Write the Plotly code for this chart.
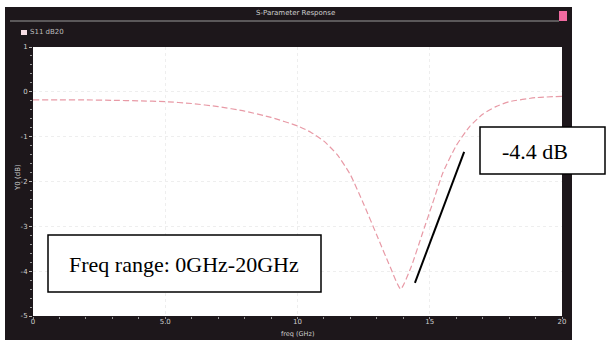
import plotly.graph_objects as go

# ---- data ----
freq_ghz = [0, 1, 2, 3, 4, 5, 6, 7, 8, 9, 10, 10.5, 11, 11.5, 12, 12.5, 13, 13.5, 13.9,
            14.3, 14.7, 15.1, 15.5, 16, 16.5, 17, 17.5, 18, 19, 20]
s11_db = [-0.18, -0.18, -0.18, -0.19, -0.2, -0.22, -0.26, -0.33, -0.43, -0.57, -0.76, -0.9,
          -1.1, -1.4, -1.85, -2.5, -3.2, -3.9, -4.4, -3.9, -3.2, -2.5, -1.8, -1.2, -0.78,
          -0.5, -0.33, -0.22, -0.13, -0.1]
x_tick_vals = [0, 5, 10, 15, 20]
x_tick_text = ["0", "5.0", "10", "15", "20"]
y_tick_vals = [1, 0, -1, -2, -3, -4, -5]
y_tick_text = ["1", "0", "-1", "-2", "-3", "-4", "-5"]
pointer_x = [14.44, 16.3]
pointer_y = [-4.26, -1.34]

# ---- geometry helpers (pixel -> paper) ----
W, H = 608, 343
L, R, T, B = 33, 562, 47, 316
def px(x):
    return (x - L) / (R - L)
def py(y):
    return (B - y) / (B - T)

FRAME = "#1d171b"
LIGHT = "#cfcfcf"

fig = go.Figure()
fig.add_trace(go.Scatter(
    x=freq_ghz, y=s11_db, mode="lines", name="S11 dB20",
    line=dict(color="#e89aa6", width=1.2, dash="6px,3px", shape="spline", smoothing=0.5),
    showlegend=False, hoverinfo="skip"))

shapes = [
    dict(type="rect", xref="paper", yref="paper", layer="below",
         x0=px(5), x1=px(572), y0=py(340), y1=py(7),
         fillcolor=FRAME, line=dict(width=0)),
    dict(type="rect", xref="paper", yref="paper", layer="below",
         x0=0, x1=1, y0=0, y1=1, fillcolor="white", line=dict(width=0)),
    dict(type="line", xref="paper", yref="paper",
         x0=px(10), x1=px(559), y0=py(21), y1=py(21),
         line=dict(color="#9a9a9a", width=1)),
    dict(type="rect", xref="paper", yref="paper",
         x0=px(559), x1=px(567), y0=py(21), y1=py(11),
         fillcolor="#f06aa0", line=dict(width=0)),
    dict(type="rect", xref="paper", yref="paper",
         x0=px(21), x1=px(27), y0=py(35), y1=py(30),
         fillcolor="#f6dde4", line=dict(width=0)),
    dict(type="rect", xref="paper", yref="paper", layer="above",
         x0=px(48), x1=px(321), y0=py(292), y1=py(235),
         fillcolor="white", line=dict(color="black", width=1.5)),
    dict(type="rect", xref="paper", yref="paper", layer="above",
         x0=px(480), x1=px(605), y0=py(174), y1=py(127),
         fillcolor="white", line=dict(color="black", width=1.5)),
    dict(type="line", xref="x", yref="y",
         x0=pointer_x[0], x1=pointer_x[1], y0=pointer_y[0], y1=pointer_y[1],
         line=dict(color="black", width=2)),
]

annotations = [
    dict(text="S-Parameter Response", xref="paper", yref="paper", x=px(295), y=py(13),
         showarrow=False, font=dict(family="DejaVu Sans", size=7, color=LIGHT),
         xanchor="center", yanchor="middle"),
    dict(text="S11 dB20", xref="paper", yref="paper", x=px(28), y=py(32),
         showarrow=False, font=dict(family="DejaVu Sans", size=7, color="#bdbdbd"),
         xanchor="left", yanchor="middle"),
    dict(text="Y0 (dB)", xref="paper", yref="paper", x=px(18), y=py(178), textangle=-90,
         showarrow=False, font=dict(family="DejaVu Sans", size=7, color=LIGHT),
         xanchor="center", yanchor="middle"),
    dict(text="freq (GHz)", xref="paper", yref="paper", x=px(297), y=py(334),
         showarrow=False, font=dict(family="DejaVu Sans", size=6.5, color=LIGHT),
         xanchor="center", yanchor="middle"),
    dict(text="Freq range: 0GHz-20GHz", xref="paper", yref="paper", x=px(184), y=py(264),
         showarrow=False, font=dict(family="Liberation Serif", size=22, color="black"),
         xanchor="center", yanchor="middle"),
    dict(text="-4.4 dB", xref="paper", yref="paper", x=px(500), y=py(151),
         showarrow=False, font=dict(family="Liberation Serif", size=22, color="black"),
         xanchor="left", yanchor="middle"),
]

fig.update_layout(
    width=W, height=H,
    margin=dict(l=L, r=W - R, t=T, b=H - B, pad=0),
    paper_bgcolor="white", plot_bgcolor="white",
    shapes=shapes, annotations=annotations, showlegend=False,
    xaxis=dict(range=[0, 20], tickvals=x_tick_vals, ticktext=x_tick_text,
               showgrid=True, gridcolor="#eeeeee", griddash="dot", gridwidth=1,
               zeroline=False, showline=False,
               ticks="", ticklen=0,
               minor=dict(dtick=1, ticks="outside", ticklen=2, tickcolor="#999999",
                          showgrid=False),
               tickfont=dict(family="DejaVu Sans", size=7, color=LIGHT)),
    yaxis=dict(range=[-5, 1], tickvals=y_tick_vals, ticktext=y_tick_text,
               showgrid=True, gridcolor="#eeeeee", griddash="dot", gridwidth=1,
               zeroline=False, showline=False,
               ticks="outside", ticklen=3, tickcolor="#bbbbbb",
               minor=dict(dtick=0.2, ticks="outside", ticklen=2, tickcolor="#999999",
                          showgrid=False),
               tickfont=dict(family="DejaVu Sans", size=7, color=LIGHT)),
)

fig.write_html("out.html")
